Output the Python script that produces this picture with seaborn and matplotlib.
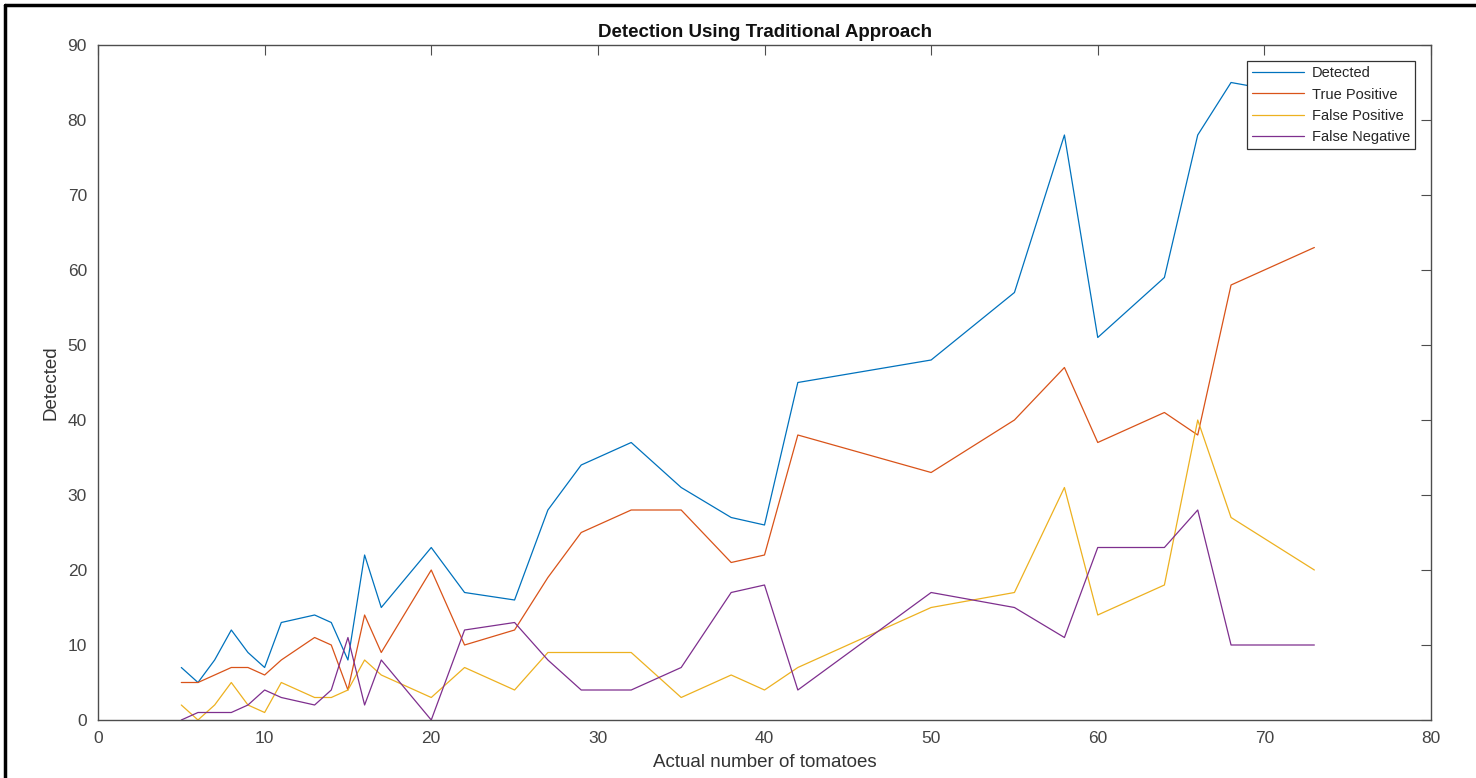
import matplotlib
matplotlib.use("Agg")
import matplotlib.pyplot as plt
import seaborn as sns
import pandas as pd
from matplotlib.lines import Line2D

# ---- data ----
actual = [5, 6, 7, 8, 9, 10, 11, 13, 14, 15, 16, 17, 20, 22, 25, 27, 29, 32, 35,
          38, 40, 42, 50, 55, 58, 60, 64, 66, 68, 73]
detected = [7, 5, 8, 12, 9, 7, 13, 14, 13, 8, 22, 15, 23, 17, 16, 28, 34, 37, 31,
            27, 26, 45, 48, 57, 78, 51, 59, 78, 85, 83]
true_positive = [5, 5, 6, 7, 7, 6, 8, 11, 10, 4, 14, 9, 20, 10, 12, 19, 25, 28, 28,
                 21, 22, 38, 33, 40, 47, 37, 41, 38, 58, 63]
false_positive = [2, 0, 2, 5, 2, 1, 5, 3, 3, 4, 8, 6, 3, 7, 4, 9, 9, 9, 3,
                  6, 4, 7, 15, 17, 31, 14, 18, 40, 27, 20]
false_negative = [0, 1, 1, 1, 2, 4, 3, 2, 4, 11, 2, 8, 0, 12, 13, 8, 4, 4, 7,
                  17, 18, 4, 17, 15, 11, 23, 23, 28, 10, 10]

series_names = ["Detected", "True Positive", "False Positive", "False Negative"]
series_colors = ["#0072BD", "#D95319", "#EDB120", "#7E2F8E"]
x_ticks = [0, 10, 20, 30, 40, 50, 60, 70, 80]
y_ticks = [0, 10, 20, 30, 40, 50, 60, 70, 80, 90]

frames = []
for name, vals in zip(series_names, [detected, true_positive, false_positive, false_negative]):
    frames.append(pd.DataFrame({"actual": actual, "value": vals, "series": name}))
df = pd.concat(frames, ignore_index=True)

sns.set_style("white")
plt.rcParams["font.family"] = ["Liberation Sans", "DejaVu Sans"]

fig = plt.figure(figsize=(14.76, 7.78), dpi=100)
ax = fig.add_axes([98 / 1476, 1 - 720 / 778, (1431 - 98) / 1476, (720 - 45) / 778])

sns.lineplot(data=df, x="actual", y="value", hue="series", hue_order=series_names,
             palette=series_colors, linewidth=0.9, ax=ax, legend=False,
             estimator=None, sort=False)

ax.set_xlim(0, 80)
ax.set_ylim(0, 90)
ax.set_xticks(x_ticks)
ax.set_yticks(y_ticks)
ax.tick_params(direction="in", length=7, width=0.8, colors="#4d4d4d",
               labelsize=12.5, top=True, right=True, labelcolor="#444444", pad=8)
for sp in ax.spines.values():
    sp.set_color("#4d4d4d")
    sp.set_linewidth(1.0)
    sp.set_visible(True)

ax.set_xlabel("Actual number of tomatoes", fontsize=13.5, color="#333333", labelpad=6)
ax.set_ylabel("Detected", fontsize=13.5, color="#333333", labelpad=6)
ax.set_title("Detection Using Traditional Approach", fontsize=13.5, fontweight="bold",
             color="#111111", pad=6)

handles = [Line2D([0], [0], color=c, lw=0.9) for c in series_colors]
leg = ax.legend(handles, series_names, loc="upper right", bbox_to_anchor=(0.988, 0.976),
                borderaxespad=0, fontsize=10.5, frameon=True, fancybox=False,
                handlelength=3.6, handletextpad=0.5, labelspacing=0.5,
                borderpad=0.35)
leg.get_frame().set_edgecolor("#333333")
leg.get_frame().set_linewidth(0.9)
leg.get_frame().set_alpha(1)

# outer frame around the picture (left and top edges visible)
fig.add_artist(Line2D([5 / 1476, 5 / 1476], [0, 1 - 5 / 778], transform=fig.transFigure,
                      color="black", lw=2.5))
fig.add_artist(Line2D([5 / 1476, 1], [1 - 5 / 778, 1 - 5 / 778], transform=fig.transFigure,
                      color="black", lw=2.5))

fig.savefig("out.png", dpi=100)
